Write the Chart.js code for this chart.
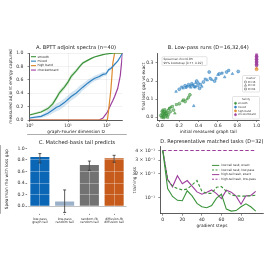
<!DOCTYPE html>
<html><head><meta charset="utf-8">
<script src="https://cdn.jsdelivr.net/npm/chart.js@4.4.1/dist/chart.umd.min.js"></script>
<style>
html,body{margin:0;padding:0;background:#fff;}
body{width:264px;height:264px;position:relative;overflow:hidden;}
canvas{position:absolute;}
</style></head><body>
<canvas id="cA" width="132" height="96" style="left:0;top:40px;width:132px;height:96px"></canvas>
<canvas id="cB" width="132" height="96" style="left:132px;top:40px;width:132px;height:96px"></canvas>
<canvas id="cC" width="132" height="100" style="left:0;top:134px;width:132px;height:100px"></canvas>
<canvas id="cD" width="132" height="100" style="left:132px;top:134px;width:132px;height:100px"></canvas>
<script>
// ---------------- Panel A data ----------------
const aDim       = [1,2,3,4,5,6,8,10,12,16,20,24,32,40,48,64,80,96,104,112,128,144,160,192,224,256];
const aSmooth    = [0.075,0.12,0.17,0.24,0.33,0.41,0.49,0.57,0.65,0.73,0.80,0.85,0.89,0.92,0.94,0.96,0.975,0.985,0.988,0.99,0.995,0.998,1.0,1.0,1.0,1.0];
const aSmoothLo  = [0.06,0.10,0.14,0.20,0.29,0.37,0.45,0.53,0.61,0.70,0.77,0.83,0.875,0.91,0.93,0.955,0.97,0.982,0.985,0.988,0.993,0.997,1.0,1.0,1.0,1.0];
const aSmoothHi  = [0.09,0.14,0.20,0.28,0.37,0.45,0.53,0.61,0.69,0.76,0.83,0.87,0.905,0.93,0.95,0.965,0.98,0.988,0.991,0.993,0.997,0.999,1.0,1.0,1.0,1.0];
const aMixed     = [0.03,0.055,0.10,0.15,0.19,0.21,0.26,0.31,0.35,0.40,0.45,0.49,0.55,0.59,0.62,0.65,0.68,0.69,0.72,0.75,0.77,0.80,0.83,0.88,0.94,1.0];
const aMixedLo   = [0.015,0.03,0.06,0.10,0.13,0.15,0.20,0.25,0.29,0.34,0.39,0.44,0.50,0.55,0.58,0.61,0.645,0.66,0.69,0.72,0.745,0.78,0.81,0.865,0.93,1.0];
const aMixedHi   = [0.045,0.08,0.14,0.20,0.25,0.27,0.32,0.37,0.41,0.46,0.51,0.54,0.60,0.63,0.66,0.69,0.715,0.72,0.75,0.78,0.795,0.82,0.85,0.895,0.95,1.0];
const aHighBand  = [0,0,0,0,0,0,0,0,0,0,0,0,0,0,0,0,0,0,0,0.15,0.45,0.85,1.0,1.0,1.0,1.0];
const aChecker   = [0,0,0,0,0,0,0,0,0,0,0,0,0,0,0,0,0.03,0.09,0.12,0.16,0.23,0.29,0.35,0.47,0.66,1.0];
const aLegend    = ['smooth','mixed','high band','checkerboard'];
const aXTicks    = [1,10,100];
const aXTickLbl  = ['10\u2070','10\u00b9','10\u00b2'];
const aYTicks    = [0,0.2,0.4,0.6,0.8,1.0];

// ---------------- Panel B data ----------------
const bSmoothX = [0.01,0.02,0.02,0.025,0.03,0.03,0.035,0.04,0.04,0.045,0.05,0.05,0.055,0.06,0.065,0.07,0.075,0.08,0.085,0.09,0.10,0.105,0.11,0.13,0.14,0.155,0.17,0.20,0.23,0.245,0.26,0.28,0.296,0.31];
const bSmoothY = [0.010,0.035,0.000,0.020,0.040,0.005,0.025,0.012,-0.003,0.030,0.018,0.042,0.005,0.028,0.012,0.022,0.035,0.000,0.015,0.045,0.050,0.030,0.055,0.060,0.040,0.022,0.070,0.075,0.090,0.096,0.087,0.100,0.110,0.124];
const bSmoothD = [16,32,64,16,32,64,16,32,64,16,32,64,16,32,64,16,32,64,16,32,64,16,32,64,16,32,64,16,32,64,16,32,64,16];
const bMixedX  = [0.167,0.20,0.226,0.24,0.26,0.27,0.28,0.296,0.31,0.32,0.33,0.34,0.35,0.355,0.365,0.37,0.38,0.39,0.40,0.41,0.42,0.434,0.45,0.469,0.49,0.51,0.52,0.538,0.566,0.58,0.60,0.615,0.643,0.67,0.69,0.712,0.75,0.81];
const bMixedY  = [0.142,0.155,0.167,0.160,0.174,0.165,0.170,0.180,0.172,0.165,0.185,0.178,0.063,0.170,0.167,0.190,0.200,0.175,0.189,0.160,0.182,0.170,0.195,0.211,0.205,0.250,0.215,0.207,0.200,0.215,0.235,0.240,0.244,0.222,0.250,0.259,0.240,0.253];
const bMixedD  = [32,16,64,32,16,64,32,16,64,32,16,64,32,16,64,32,16,64,32,16,64,32,16,64,32,16,64,32,16,64,32,16,64,32,16,64,32,16];
const bHighX   = [1.0,1.0];
const bHighY   = [0.265,0.271];
const bHighD   = [16,32];
const bCheckX  = [1.0,1.0,1.0,1.0,1.0,1.0,1.0,1.0,1.0,1.0,1.0,1.0,1.0];
const bCheckY  = [0.285,0.290,0.295,0.300,0.305,0.310,0.315,0.320,0.325,0.330,0.335,0.340,0.345];
const bCheckD  = [64,16,32,64,16,32,64,16,32,64,16,32,64];
const bXTicks  = [0,0.2,0.4,0.6,0.8,1.0];
const bYTicks  = [0,0.1,0.2,0.3];
const bNote    = ['Spearman rho=0.85','95% bootstrap [0.77, 0.92]'];
const bDims    = [16,32,64];
const bDimLbl  = ['D=16','D=32','D=64'];

// ---------------- Panel C data ----------------
const cLabels = [['low-pass','graph tail'],['low-pass','random tail'],['random-fb','random tail'],['diffusion-fb','diffusion tail']];
const cRho    = [0.85,0.08,0.71,0.83];
const cLo     = [0.75,-0.11,0.62,0.76];
const cHi     = [0.91,0.28,0.78,0.88];
const cYTicks = [0,0.2,0.4,0.6,0.8,1.0];

// ---------------- Panel D data ----------------
const dSteps     = [0,5,10,15,20,25,30,35,40,45,50,55,60,65,70,75,80,85,90,95];
const dLowExact  = [0.40,0.13,0.103,0.092,0.091,0.122,0.105,0.084,0.076,0.074,0.079,0.098,0.110,0.071,0.067,0.068,0.076,0.083,0.076,0.067];
const dLowLP     = [0.40,0.17,0.14,0.13,0.125,0.128,0.145,0.165,0.12,0.113,0.113,0.135,0.138,0.12,0.108,0.105,0.104,0.104,0.105,0.107];
const dHighExact = [0.40,0.17,0.137,0.19,0.15,0.165,0.14,0.118,0.11,0.117,0.125,0.112,0.097,0.124,0.117,0.104,0.082,0.105,0.106,0.12];
const dHighLP    = [0.40,0.40,0.40,0.40,0.40,0.40,0.40,0.40,0.40,0.40,0.40,0.40,0.40,0.40,0.40,0.40,0.40,0.40,0.40,0.40];
const dLegend    = ['low-tail task, exact','low-tail task, low-pass','high-tail task, exact','high-tail task, low-pass'];
const dXTicks    = [0,20,40,60,80];
const dYTicks    = [0.1,0.2,0.3,0.4];
const dYTickLbl  = ['10\u207b\u00b9','2 \u00d7 10\u207b\u00b9','3 \u00d7 10\u207b\u00b9','4 \u00d7 10\u207b\u00b9'];

// ---------------- styling ----------------
Chart.defaults.font.family = '"DejaVu Sans", sans-serif';
Chart.defaults.color = '#333';
Chart.defaults.animation = false;
const GREEN='#3a933a', BLUE='#2f80c0', ORANGE='#dd8a2c', PURPLE='#9c3d9c';
const cColors = ['#0b66b5','#9bb1c9','#727272','#c75b1b'];
const shapeFor = {16:'circle',32:'triangle',64:'rect'};
const TF = 4.6, AF = 4.3, TITLE = 5.2;

function fixY(w){ return s => { s.width = w; s.paddingTop = 0; s.paddingBottom = 0; }; }
function fixX(h){ return s => { s.height = h; s.paddingLeft = 0; s.paddingRight = 0; }; }
function setTicks(vals){ return s => { s.ticks = vals.map(v => ({value: v})); }; }
function titleOpt(text, cy, areaTop){
  const lh = TITLE*1.2, pt = cy - lh/2;
  return {display:true, text, color:'#222', font:{size:TITLE, weight:'normal'}, fullSize:false,
          padding:{top: pt, bottom: Math.max(0, areaTop - pt - lh)}};
}
function xTitle(text, fromBottom){ return {display:true, text, color:'#222', font:{size:AF}, padding:{top:0, bottom: fromBottom - AF*0.6}}; }
function yTitle(text, cx){ return {display:true, text, color:'#222', font:{size:AF}, padding:{top: cx - AF*0.6, bottom:0}}; }
const border = {color:'#333', width:0.8};
function grid(extra){ return Object.assign({tickLength:2, tickColor:'#444', tickWidth:0.6, lineWidth:0.5}, extra); }
function ticks(extra){ return Object.assign({font:{size:TF}, color:'#333', maxRotation:0, autoSkip:false}, extra); }

function mark(ctx, style, x, y, r){
  ctx.beginPath();
  if (style === 'triangle'){ ctx.moveTo(x, y - r*1.15); ctx.lineTo(x + r, y + r*0.6); ctx.lineTo(x - r, y + r*0.6); ctx.closePath(); }
  else if (style === 'rect'){ ctx.rect(x - r*0.85, y - r*0.85, r*1.7, r*1.7); }
  else { ctx.arc(x, y, r, 0, Math.PI*2); }
  ctx.fill(); ctx.stroke();
}
function frameBox(ctx, f){
  ctx.fillStyle = 'rgba(255,255,255,0.9)'; ctx.strokeStyle = '#c8c8c8'; ctx.lineWidth = 0.5;
  ctx.beginPath();
  if (ctx.roundRect) ctx.roundRect(f[0], f[1], f[2], f[3], 1); else ctx.rect(f[0], f[1], f[2], f[3]);
  ctx.fill(); ctx.stroke();
}
function makeLegend(id, o){
  return { id, afterDraw(chart){
    const ctx = chart.ctx; ctx.save();
    if (o.frame) frameBox(ctx, o.frame);
    ctx.font = o.size + 'px "DejaVu Sans"'; ctx.textBaseline = 'middle';
    if (o.title){ ctx.fillStyle = '#333'; ctx.textAlign = 'center'; ctx.fillText(o.title, o.titleX, o.titleY); }
    ctx.textAlign = 'left';
    o.items.forEach((it, i) => {
      const y = o.y0 + i*o.dy;
      ctx.save();
      if (it.line){
        ctx.strokeStyle = it.color; ctx.lineWidth = o.lw || 1; ctx.setLineDash(it.dash || []);
        ctx.beginPath(); ctx.moveTo(o.x0, y); ctx.lineTo(o.x0 + o.len, y); ctx.stroke();
      } else {
        ctx.fillStyle = it.fill; ctx.strokeStyle = it.color; ctx.lineWidth = 0.5;
        mark(ctx, it.shape, o.x0, y, o.r);
      }
      ctx.restore();
      ctx.fillStyle = '#333'; ctx.fillText(it.label, o.tx, y);
    });
    ctx.restore();
  }};
}
function pts(xs, ys){ return xs.map((x, i) => ({x, y: ys[i]})); }
function lineSet(xs, ys, color, extra){
  return Object.assign({data: pts(xs, ys), borderColor: color, backgroundColor: color, borderWidth: 1.2, pointRadius: 0, fill: false, tension: 0}, extra || {});
}

// ---------------- Chart A ----------------
new Chart(document.getElementById('cA'), {
  type: 'line',
  data: { datasets: [
    lineSet(aDim, aSmooth, GREEN),
    lineSet(aDim, aMixed, BLUE),
    lineSet(aDim, aHighBand, ORANGE),
    lineSet(aDim, aChecker, PURPLE),
    lineSet(aDim, aSmoothHi, 'rgba(0,0,0,0)', {borderWidth:0, fill:'+1', backgroundColor:'rgba(58,147,58,0.18)'}),
    lineSet(aDim, aSmoothLo, 'rgba(0,0,0,0)', {borderWidth:0}),
    lineSet(aDim, aMixedHi, 'rgba(0,0,0,0)', {borderWidth:0, fill:'+1', backgroundColor:'rgba(47,128,192,0.2)'}),
    lineSet(aDim, aMixedLo, 'rgba(0,0,0,0)', {borderWidth:0})
  ]},
  options: {
    responsive:false, animation:false,
    layout:{padding:{left:0, top:0, right:9.5, bottom:0}},
    plugins:{ legend:{display:false}, tooltip:{enabled:false}, title: titleOpt('A. BPTT adjoint spectra (n=40)', 8, 13) },
    scales:{
      x:{ type:'logarithmic', min:1, max:256, afterFit:fixX(16), afterBuildTicks:setTicks(aXTicks),
          ticks:ticks({padding:1.2, callback:v => { const i = aXTicks.indexOf(v); return i < 0 ? '' : aXTickLbl[i]; }}),
          grid:grid({color:'rgba(0,0,0,0.1)'}), border, title:xTitle('graph-Fourier dimension D', 4.5) },
      y:{ type:'linear', min:0, max:1, afterFit:fixY(29.5), afterBuildTicks:setTicks(aYTicks),
          ticks:ticks({padding:4, callback:v => Number(v).toFixed(1)}),
          grid:grid({color:'rgba(0,0,0,0.1)'}), border, title:yTitle('measured adjoint energy captured', 11) }
    }
  },
  plugins:[ makeLegend('legA', {x0:31, len:5, tx:37.5, y0:16.7, dy:4.45, size:3.1, lw:1.1,
    items:[{line:true,color:GREEN,label:aLegend[0]},{line:true,color:BLUE,label:aLegend[1]},{line:true,color:ORANGE,label:aLegend[2]},{line:true,color:PURPLE,label:aLegend[3]}]}) ]
});

// ---------------- Chart B ----------------
function scatterSet(xs, ys, ds, color, fill){
  return {type:'scatter', data: pts(xs, ys), pointStyle: ds.map(d => shapeFor[d]), backgroundColor: fill, borderColor: color, borderWidth: 0.5, pointRadius: 1.5};
}
const noteB = { id:'noteB', afterDraw(chart){
  const ctx = chart.ctx; ctx.save();
  frameBox(ctx, [30, 16.7, 45, 8.8]);
  ctx.fillStyle = '#333'; ctx.font = '2.9px "DejaVu Sans"'; ctx.textBaseline = 'middle'; ctx.textAlign = 'left';
  ctx.fillText(bNote[0], 31.5, 19);
  ctx.fillText(bNote[1], 31.5, 23.2);
  ctx.restore();
}};
new Chart(document.getElementById('cB'), {
  type: 'scatter',
  data: { datasets: [
    scatterSet(bSmoothX, bSmoothY, bSmoothD, GREEN, 'rgba(58,147,58,0.55)'),
    scatterSet(bMixedX, bMixedY, bMixedD, BLUE, 'rgba(47,128,192,0.55)'),
    scatterSet(bHighX, bHighY, bHighD, ORANGE, 'rgba(221,138,44,0.6)'),
    scatterSet(bCheckX, bCheckY, bCheckD, PURPLE, 'rgba(156,61,156,0.6)')
  ]},
  options: {
    responsive:false, animation:false,
    layout:{padding:{left:0, top:0, right:5, bottom:0}},
    plugins:{ legend:{display:false}, tooltip:{enabled:false}, title: titleOpt('B. Low-pass runs (D=16,32,64)', 8, 13) },
    scales:{
      x:{ type:'linear', min:-0.025, max:1.025, afterFit:fixX(16), afterBuildTicks:setTicks(bXTicks),
          ticks:ticks({padding:1.2, callback:v => Number(v).toFixed(1)}),
          grid:grid({drawOnChartArea:false}), border, title:xTitle('initial measured graph tail', 4.5) },
      y:{ type:'linear', min:-0.015, max:0.355, afterFit:fixY(25.5), afterBuildTicks:setTicks(bYTicks),
          ticks:ticks({padding:2, callback:v => Number(v).toFixed(1)}),
          grid:grid({drawOnChartArea:false}), border, title:yTitle('final loss gap vs exact', 12) }
    }
  },
  plugins:[ noteB,
    makeLegend('legBm', {frame:[110.5,35.5,17,16.5], title:'marker', titleX:119, titleY:38.2, x0:113.5, tx:116, y0:42, dy:3.5, size:2.6, r:1.1,
      items: bDims.map((d, i) => ({shape:shapeFor[d], color:'#555', fill:'rgba(255,255,255,0)', label:bDimLbl[i]}))}),
    makeLegend('legBf', {frame:[100.5,56.5,27,22.5], title:'family', titleX:114, titleY:59.5, x0:103.5, tx:106, y0:63.3, dy:3.8, size:2.6, r:1.1,
      items:[{shape:'circle',color:GREEN,fill:GREEN,label:aLegend[0]},{shape:'circle',color:BLUE,fill:BLUE,label:aLegend[1]},{shape:'circle',color:ORANGE,fill:ORANGE,label:aLegend[2]},{shape:'circle',color:PURPLE,fill:PURPLE,label:aLegend[3]}]})
  ]
});

// ---------------- Chart C ----------------
const errC = { id:'errC', afterDraw(chart){
  const ctx = chart.ctx, x = chart.scales.x, y = chart.scales.y;
  ctx.save(); ctx.strokeStyle = '#333'; ctx.lineWidth = 0.8;
  cRho.forEach((v, i) => {
    const px = x.getPixelForValue(i), y1 = y.getPixelForValue(cLo[i]), y2 = y.getPixelForValue(cHi[i]);
    ctx.beginPath();
    ctx.moveTo(px, y1); ctx.lineTo(px, y2);
    ctx.moveTo(px - 1.5, y1); ctx.lineTo(px + 1.5, y1);
    ctx.moveTo(px - 1.5, y2); ctx.lineTo(px + 1.5, y2);
    ctx.stroke();
  });
  ctx.restore();
}};
new Chart(document.getElementById('cC'), {
  type: 'bar',
  data: { labels: cLabels, datasets: [{ data: cRho, backgroundColor: cColors, borderWidth: 0, barPercentage: 0.77, categoryPercentage: 1 }] },
  options: {
    responsive:false, animation:false,
    layout:{padding:{left:0, top:0, right:5.5, bottom:0}},
    plugins:{ legend:{display:false}, tooltip:{enabled:false}, title: titleOpt('C. Matched-basis tail predicts', 8.3, 11.5) },
    scales:{
      x:{ type:'category', offset:true, afterFit:fixX(21),
          ticks:{font:{size:3.2, lineHeight:1.1}, color:'#333', padding:2.3, maxRotation:0, autoSkip:false},
          grid:grid({offset:false, z:1, color:'rgba(255,255,255,0.55)', lineWidth:0.6}), border },
      y:{ type:'linear', min:-0.12, max:1.05, afterFit:fixY(27.5), afterBuildTicks:setTicks(cYTicks),
          ticks:ticks({padding:0.8, callback:v => Number(v).toFixed(1)}),
          grid:grid({z:1, lineWidth:0.6, color: c => (c.tick && c.tick.value === 0) ? '#999' : 'rgba(255,255,255,0.55)'}),
          border, title:yTitle('Spearman rho with loss gap', 7.3) }
    }
  },
  plugins:[errC]
});

// ---------------- Chart D ----------------
new Chart(document.getElementById('cD'), {
  type: 'line',
  data: { datasets: [
    lineSet(dSteps, dLowExact, GREEN, {borderWidth:1.1}),
    lineSet(dSteps, dLowLP, GREEN, {borderWidth:1.1, borderDash:[3,2]}),
    lineSet(dSteps, dHighExact, PURPLE, {borderWidth:1.1}),
    lineSet(dSteps, dHighLP, PURPLE, {borderWidth:1.1, borderDash:[3.5,2]})
  ]},
  options: {
    responsive:false, animation:false,
    layout:{padding:{left:0, top:0, right:0.5, bottom:0}},
    plugins:{ legend:{display:false}, tooltip:{enabled:false}, title: titleOpt('D. Representative matched tasks (D=32)', 8, 12.5) },
    scales:{
      x:{ type:'linear', min:-2.5, max:103, afterFit:fixX(20.3), afterBuildTicks:setTicks(dXTicks),
          ticks:ticks({padding:1.8, callback:v => String(v)}),
          grid:grid({drawOnChartArea:false}), border, title:xTitle('gradient steps', 8) },
      y:{ type:'logarithmic', min:0.062, max:0.45, afterFit:fixY(28.3), afterBuildTicks:setTicks(dYTicks),
          ticks:ticks({padding:3.3, callback:v => { const i = dYTicks.indexOf(v); return i < 0 ? '' : dYTickLbl[i]; }}),
          grid:grid({drawOnChartArea:false}), border, title:yTitle('training loss', 3) }
    }
  },
  plugins:[ makeLegend('legD', {x0:80, len:7.3, tx:89.3, y0:31.4, dy:4.6, size:3.0, lw:1,
    items:[{line:true,color:GREEN,label:dLegend[0]},{line:true,color:GREEN,dash:[2,1.5],label:dLegend[1]},{line:true,color:PURPLE,label:dLegend[2]},{line:true,color:PURPLE,dash:[2,1.5],label:dLegend[3]}]}) ]
});
</script>
</body></html>
